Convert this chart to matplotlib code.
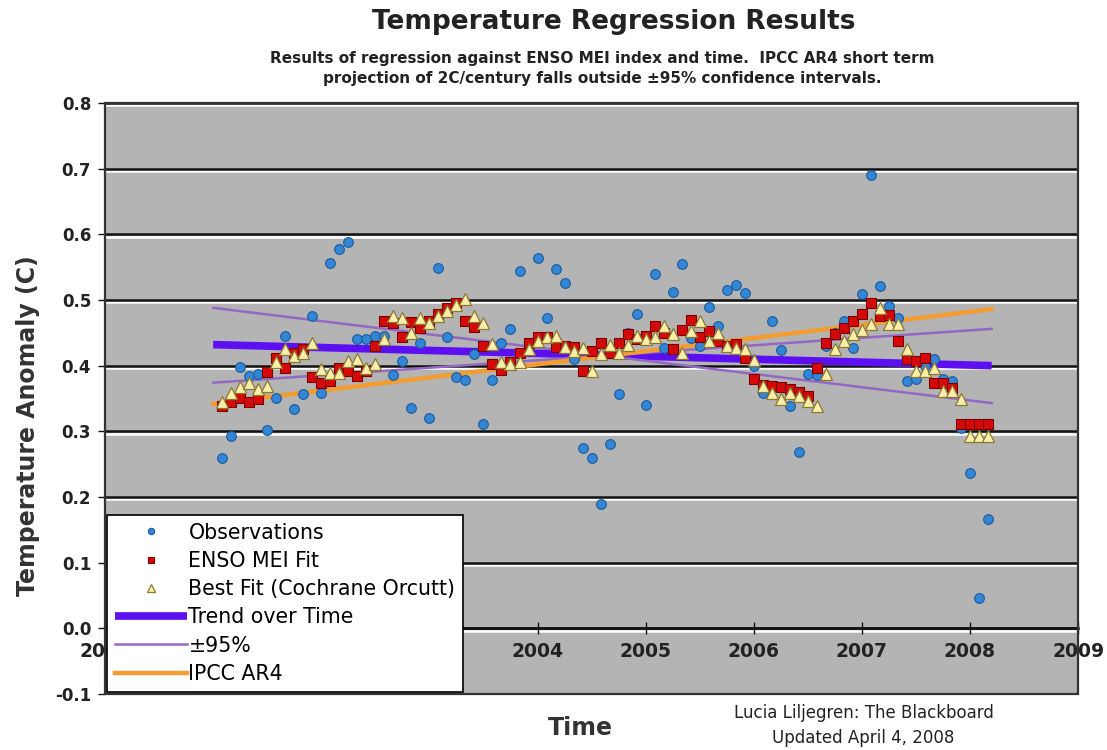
import numpy as np
import pandas as pd
import matplotlib
matplotlib.use("Agg")
import matplotlib.pyplot as plt
import matplotlib.patheffects as pe
from matplotlib.patches import Rectangle

# monthly data Jan 2001 .. Feb 2008
dates = pd.date_range("2001-01", periods=86, freq="MS")
x = dates.year + dates.month / 12.0

observations = [
    0.260, 0.293, 0.398, 0.384, 0.387, 0.302, 0.350, 0.445, 0.334, 0.357, 0.476, 0.359,
    0.556, 0.578, 0.588, 0.440, 0.440, 0.445, 0.445, 0.386, 0.407, 0.336, 0.435, 0.320,
    0.549, 0.443, 0.383, 0.378, 0.418, 0.311, 0.378, 0.435, 0.456, 0.544, 0.430, 0.564,
    0.473, 0.547, 0.526, 0.410, 0.275, 0.260, 0.189, 0.281, 0.357, 0.450, 0.478, 0.340,
    0.540, 0.427, 0.512, 0.555, 0.442, 0.430, 0.489, 0.460, 0.515, 0.523, 0.510, 0.400,
    0.359, 0.468, 0.424, 0.339, 0.269, 0.387, 0.385, 0.430, 0.450, 0.468, 0.427, 0.509,
    0.690, 0.521, 0.491, 0.473, 0.377, 0.380, 0.400, 0.410, 0.380, 0.377, 0.305, 0.237,
    0.046, 0.167,
]

enso_fit = [
    0.339, 0.344, 0.350, 0.344, 0.349, 0.391, 0.412, 0.397, 0.420, 0.425, 0.382, 0.374,
    0.377, 0.397, 0.392, 0.384, 0.392, 0.430, 0.468, 0.465, 0.443, 0.466, 0.458, 0.468,
    0.478, 0.488, 0.496, 0.468, 0.459, 0.430, 0.402, 0.394, 0.405, 0.420, 0.435, 0.443,
    0.443, 0.428, 0.430, 0.428, 0.392, 0.422, 0.435, 0.420, 0.435, 0.448, 0.440, 0.445,
    0.461, 0.450, 0.425, 0.455, 0.470, 0.443, 0.453, 0.438, 0.430, 0.433, 0.412, 0.379,
    0.370, 0.369, 0.368, 0.364, 0.360, 0.354, 0.397, 0.434, 0.448, 0.458, 0.468, 0.478,
    0.496, 0.476, 0.477, 0.438, 0.410, 0.407, 0.412, 0.374, 0.374, 0.366, 0.311, 0.311,
    0.311, 0.311,
]

best_fit = [
    0.345, 0.359, 0.367, 0.373, 0.364, 0.369, 0.405, 0.425, 0.415, 0.420, 0.435, 0.395,
    0.389, 0.389, 0.407, 0.410, 0.397, 0.402, 0.440, 0.476, 0.473, 0.450, 0.473, 0.465,
    0.476, 0.483, 0.493, 0.501, 0.476, 0.465, 0.433, 0.405, 0.402, 0.405, 0.425, 0.437,
    0.443, 0.445, 0.428, 0.422, 0.427, 0.392, 0.417, 0.432, 0.420, 0.432, 0.445, 0.440,
    0.443, 0.461, 0.448, 0.420, 0.453, 0.468, 0.438, 0.450, 0.430, 0.427, 0.425, 0.408,
    0.369, 0.359, 0.349, 0.359, 0.354, 0.346, 0.339, 0.387, 0.425, 0.437, 0.448, 0.455,
    0.463, 0.488, 0.463, 0.463, 0.425, 0.392, 0.392, 0.397, 0.362, 0.362, 0.349, 0.293,
    0.293, 0.293,
]

# straight lines: start / end
line_x = [2001.0, 2008.2]
trend = [0.432, 0.400]
ci_a = [0.488, 0.343]
ci_b = [0.374, 0.456]
ipcc = [0.342, 0.486]

year_ticks = list(range(2000, 2010))
y_ticks = [-0.1, 0.0, 0.1, 0.2, 0.3, 0.4, 0.5, 0.6, 0.7, 0.8]

fig = plt.figure(figsize=(11.07, 7.5), dpi=100)
ax = fig.add_axes([0.0949, 0.0747, 0.879, 0.788])
ax.set_facecolor("#b4b4b4")

# excel-ish gridlines: black with a white highlight underneath
for yv in y_ticks:
    ax.axhline(yv, color="#111111", lw=1.8, zorder=1,
               path_effects=[pe.SimpleLineShadow(offset=(0, -1.6), shadow_color="white", alpha=1),
                             pe.Normal()])

ax.plot(line_x, trend, color="#5c10f2", lw=5.5, solid_capstyle="butt", zorder=2, label="Trend over Time")
ax.plot(line_x, ci_a, color="#9468c4", lw=1.8, zorder=2, label="\u00b195%")
ax.plot(line_x, ci_b, color="#9468c4", lw=1.8, zorder=2, label="_nolegend_")
ax.plot(line_x, ipcc, color="#f39c2f", lw=3.2, zorder=2, label="IPCC AR4")

ax.plot(x, observations, ls="none", marker="o", ms=7, mfc="#3386d6", mec="#1b5a9c",
        mew=0.8, zorder=3, label="Observations")
ax.plot(x, enso_fit, ls="none", marker="s", ms=7.6, mfc="#d40a0a", mec="#7a0000",
        mew=0.8, zorder=4, label="ENSO MEI Fit")
ax.plot(x, best_fit, ls="none", marker="^", ms=8.6, mfc="#fbeeaa", mec="#8a7a30",
        mew=0.9, zorder=5, label="Best Fit (Cochrane Orcutt)")

ax.set_xlim(2000, 2009)
ax.set_ylim(-0.1, 0.8)
ax.set_xticks(year_ticks)
ax.set_xticklabels([str(t) for t in year_ticks])
ax.set_yticks(y_ticks)
ax.set_yticklabels(["%.1f" % t for t in y_ticks])

# category axis crosses at 0
for s in ["top", "right", "left"]:
    ax.spines[s].set_visible(False)
ax.spines["bottom"].set_position(("data", 0))
ax.spines["bottom"].set_color("#111111")
ax.spines["bottom"].set_linewidth(1.8)
ax.add_patch(Rectangle((0, 0), 1, 1, transform=ax.transAxes, fill=False,
                       ec="#333333", lw=1.6, zorder=6, clip_on=False))

ax.tick_params(axis="x", direction="inout", length=8, width=1, colors="#111111",
               labelsize=13.5, pad=6)
ax.tick_params(axis="y", direction="out", length=5, width=1, colors="#111111",
               labelsize=12, pad=5)
for lbl in ax.get_xticklabels() + ax.get_yticklabels():
    lbl.set_fontweight("bold")
    lbl.set_color("#222222")

# legend order as in the original
h, l = ax.get_legend_handles_labels()
order = ["Observations", "ENSO MEI Fit", "Best Fit (Cochrane Orcutt)",
         "Trend over Time", "\u00b195%", "IPCC AR4"]
hd = dict(zip(l, h))
leg = ax.legend([hd[k] for k in order], order, loc="lower left",
                bbox_to_anchor=(0.002, 0.004), borderaxespad=0, fontsize=14.8,
                frameon=True, fancybox=False, edgecolor="black", framealpha=1,
                handlelength=3.5, handletextpad=0.08, labelspacing=0.4,
                borderpad=0.38, markerscale=0.65)
leg.get_frame().set_linewidth(1.2)
leg.set_zorder(10)

fig.text(0.554, 0.971, "Temperature Regression Results", ha="center", va="center",
         fontsize=19, fontweight="bold", color="#222222")
fig.text(0.544, 0.909,
         "Results of regression against ENSO MEI index and time.  IPCC AR4 short term\n"
         "projection of 2C/century falls outside \u00b195% confidence intervals.",
         ha="center", va="center", fontsize=11, fontweight="bold", color="#222222",
         linespacing=1.45)
fig.text(0.025, 0.433, "Temperature Anomaly (C)", rotation=90, ha="center", va="center",
         fontsize=17, fontweight="bold", color="#333333")
fig.text(0.524, 0.029, "Time", ha="center", va="center", fontsize=17,
         fontweight="bold", color="#333333")
fig.text(0.78, 0.049, "Lucia Liljegren: The Blackboard", ha="center", va="center",
         fontsize=12, color="#222222")
fig.text(0.78, 0.016, "Updated April 4, 2008", ha="center", va="center",
         fontsize=12, color="#222222")

fig.savefig("out.png", dpi=100)
